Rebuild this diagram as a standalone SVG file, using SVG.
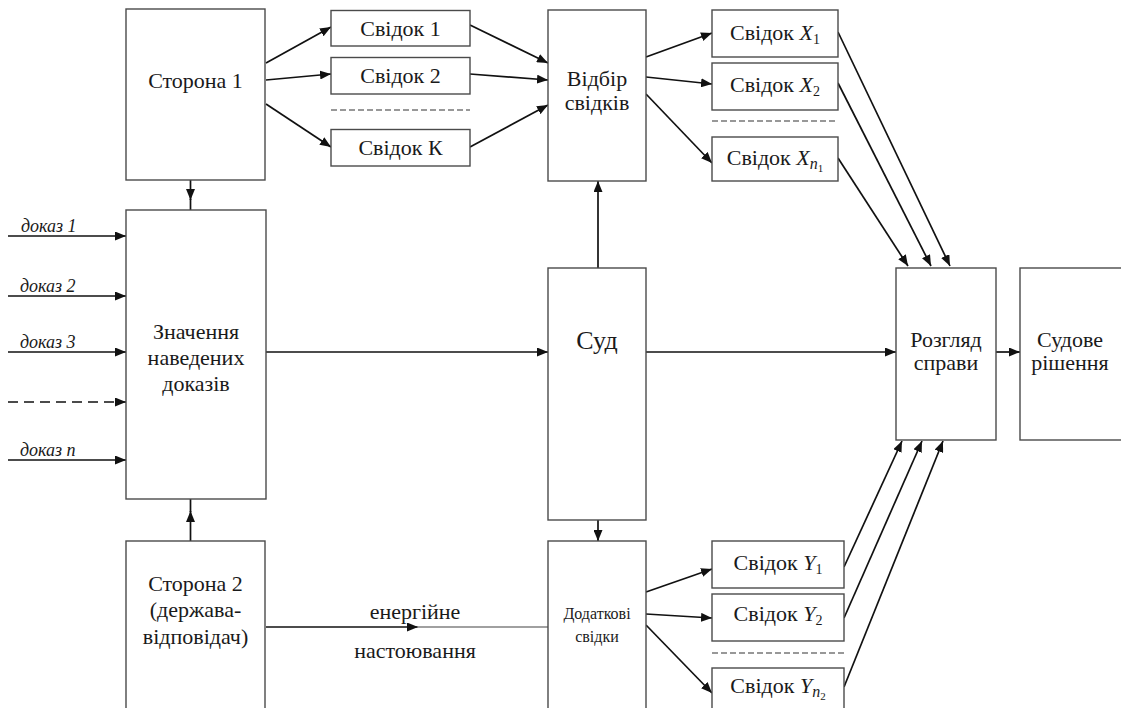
<svg xmlns="http://www.w3.org/2000/svg" width="1121" height="708" viewBox="0 0 1121 708" font-family="'Liberation Serif', 'DejaVu Serif', serif">
<defs>
<marker id="arr" markerUnits="userSpaceOnUse" markerWidth="11" markerHeight="9" refX="11" refY="4.5" orient="auto">
<path d="M0,0 L11,4.5 L0,9 z" fill="#111"/>
</marker>
<style>
.box{fill:#fff;stroke:#4a4a4a;stroke-width:1.4}
.t{font-family:'Liberation Serif','DejaVu Serif',serif;font-size:22px;fill:#1a1a1a;text-anchor:middle}
.s{font-size:16px}
.ev{font-family:'Liberation Serif','DejaVu Serif',serif;font-size:18px;font-style:italic;fill:#1a1a1a}
.ln{stroke:#111;stroke-width:1.7;fill:none}
.a{marker-end:url(#arr)}
.dash{stroke:#333;stroke-width:1.2;stroke-dasharray:6 3;fill:none}
.m{font-style:italic}
</style>
</defs>
<rect width="1121" height="708" fill="#fff"/>

<g id="connectors">
<line class="ln a" x1="190.5" y1="180" x2="190.5" y2="200"/>
<line class="ln" x1="190.5" y1="199" x2="190.5" y2="210"/>
<line class="ln a" x1="190.5" y1="541" x2="190.5" y2="511"/>
<line class="ln" x1="190.5" y1="512" x2="190.5" y2="499"/>
<line class="ln a" x1="8" y1="236" x2="126" y2="236"/>
<line class="ln a" x1="8" y1="296" x2="126" y2="296"/>
<line class="ln a" x1="8" y1="352" x2="126" y2="352"/>
<line class="ln a" x1="8" y1="402" x2="126" y2="402" stroke-dasharray="10 6"/>
<line class="ln a" x1="8" y1="460" x2="126" y2="460"/>
<line class="ln a" x1="266" y1="352" x2="548" y2="352"/>
<line class="ln a" x1="598" y1="268" x2="598" y2="181"/>
<line class="ln a" x1="598" y1="520" x2="598" y2="541"/>
<line class="ln a" x1="646" y1="352" x2="896" y2="352"/>
<line class="ln a" x1="996" y1="352" x2="1020" y2="352"/>
<line class="ln a" x1="266" y1="63" x2="331" y2="27"/>
<line class="ln a" x1="266" y1="80" x2="331" y2="74"/>
<line class="ln a" x1="266" y1="104" x2="331" y2="147"/>
<line class="ln a" x1="470" y1="25" x2="548" y2="63"/>
<line class="ln a" x1="470" y1="74" x2="548" y2="80"/>
<line class="ln a" x1="470" y1="147" x2="548" y2="105"/>
<line class="ln a" x1="646" y1="57" x2="712" y2="33"/>
<line class="ln a" x1="646" y1="77" x2="712" y2="84"/>
<line class="ln a" x1="646" y1="94" x2="712" y2="163"/>
<line class="ln a" x1="838" y1="32" x2="950" y2="266"/>
<line class="ln a" x1="838" y1="83" x2="931" y2="266"/>
<line class="ln a" x1="838" y1="158" x2="908" y2="266"/>
<line class="ln a" x1="646" y1="592" x2="712" y2="569"/>
<line class="ln a" x1="646" y1="614" x2="712" y2="618"/>
<line class="ln a" x1="646" y1="625" x2="712" y2="693"/>
<line class="ln a" x1="844" y1="567" x2="902" y2="441"/>
<line class="ln a" x1="844" y1="618" x2="922" y2="441"/>
<line class="ln a" x1="844" y1="687" x2="943" y2="441"/>
<line class="ln a" x1="266" y1="627" x2="418" y2="627"/>
<line x1="417" y1="627" x2="548" y2="627" stroke="#808080" stroke-width="1.6"/>
<line class="dash" x1="331" y1="110" x2="470" y2="110"/>
<line class="dash" x1="712" y1="121" x2="838" y2="121"/>
<line class="dash" x1="712" y1="653" x2="845" y2="653"/>
</g>

<g id="storona1"><rect class="box" x="126" y="9" width="139" height="171"/><text class="t" x="195.5" y="88">Сторона 1</text></g>
<g id="znachennia"><rect class="box" x="126" y="210" width="140" height="289"/>
<text class="t" x="196" y="339">Значення</text><text class="t" x="196" y="365">наведених</text><text class="t" x="196" y="391">доказів</text></g>
<g id="storona2"><rect class="box" x="126" y="541" width="139" height="180"/>
<text class="t" x="195.5" y="591">Сторона 2</text><text class="t" x="195.5" y="617">(держава-</text><text class="t" x="195.5" y="644">відповідач)</text></g>
<g id="evidence">
<text class="ev" x="21" y="232">доказ 1</text>
<text class="ev" x="20" y="292">доказ 2</text>
<text class="ev" x="20" y="348">доказ 3</text>
<text class="ev" x="20" y="456">доказ n</text>
</g>
<g id="svidok1"><rect class="box" x="331" y="10.5" width="139" height="35.5"/><text class="t" x="400.5" y="36">Свідок 1</text></g>
<g id="svidok2"><rect class="box" x="331" y="57.5" width="139" height="36.5"/><text class="t" x="400.5" y="83">Свідок 2</text></g>
<g id="svidokK"><rect class="box" x="331" y="129.5" width="139" height="36.5"/><text class="t" x="400.5" y="155">Свідок К</text></g>
<g id="vidbir"><rect class="box" x="548" y="10" width="98" height="171"/><text class="t" x="597" y="86">Відбір</text><text class="t" x="597" y="110">свідків</text></g>
<g id="sud"><rect class="box" x="548" y="268" width="98" height="252"/><text class="t" x="597" y="349" style="font-size:26px">Суд</text></g>
<g id="dodatkovi"><rect class="box" x="548" y="541" width="98" height="180"/><text class="t s" x="597" y="619">Додаткові</text><text class="t s" x="597" y="642">свідки</text></g>
<g id="x1"><rect class="box" x="712" y="10" width="126" height="47"/><text class="t" x="775" y="40">Свідок <tspan class="m">X</tspan><tspan font-size="14" dy="4">1</tspan></text></g>
<g id="x2"><rect class="box" x="712" y="63" width="126" height="47"/><text class="t" x="775" y="92">Свідок <tspan class="m">X</tspan><tspan font-size="14" dy="4">2</tspan></text></g>
<g id="xn1"><rect class="box" x="712" y="137" width="126" height="44"/><text class="t" x="775" y="165">Свідок <tspan class="m">X</tspan><tspan class="m" font-size="16" dy="4">n</tspan><tspan font-size="11" dy="3">1</tspan></text></g>
<g id="y1"><rect class="box" x="712" y="541" width="132" height="47"/><text class="t" x="778" y="570">Свідок <tspan class="m">Y</tspan><tspan font-size="14" dy="4">1</tspan></text></g>
<g id="y2"><rect class="box" x="712" y="594" width="132" height="47"/><text class="t" x="778" y="621">Свідок <tspan class="m">Y</tspan><tspan font-size="14" dy="4">2</tspan></text></g>
<g id="yn2"><rect class="box" x="712" y="668" width="132" height="50"/><text class="t" x="778" y="693">Свідок <tspan class="m">Y</tspan><tspan class="m" font-size="16" dy="4">n</tspan><tspan font-size="11" dy="3">2</tspan></text></g>
<g id="rozghliad"><rect class="box" x="896" y="268" width="100" height="172"/><text class="t" x="946" y="347">Розгляд</text><text class="t" x="946" y="370">справи</text></g>
<g id="rishennia"><rect class="box" x="1020" y="268" width="110" height="172"/><text class="t" x="1070" y="347">Судове</text><text class="t" x="1070" y="370">рішення</text></g>
<g id="energy"><text class="t" x="415" y="619">енергійне</text><text class="t" x="415" y="658">настоювання</text></g>
</svg>
